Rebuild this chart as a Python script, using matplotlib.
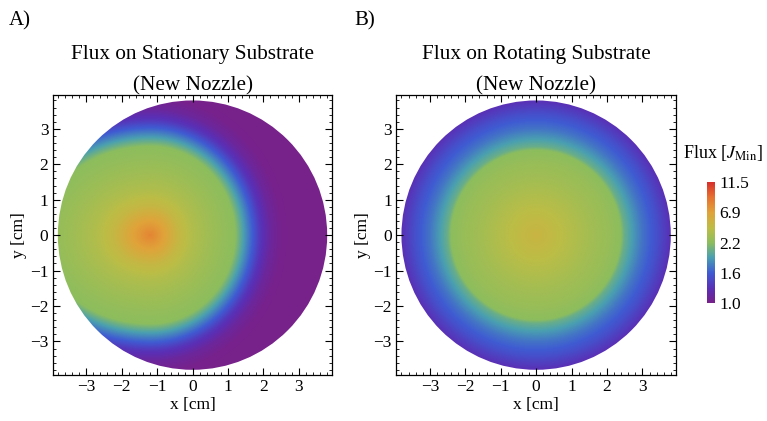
"""Flux maps on a stationary vs rotating substrate (new nozzle)."""
import numpy as np
import matplotlib
matplotlib.use('Agg')
import matplotlib.pyplot as plt
from matplotlib.colors import LinearSegmentedColormap, FuncNorm
from matplotlib.patches import Circle
from matplotlib.ticker import MultipleLocator

plt.rcParams.update({
    'font.family': 'Liberation Serif',
    'mathtext.fontset': 'stix',
    'font.size': 12,
    'axes.linewidth': 0.9,
    'xtick.direction': 'in',
    'ytick.direction': 'in',
})

# ---- data ----
substrate_radius = 3.8  # cm

# colorbar tick values (evenly spaced on the bar)
cbar_ticks = [1.0, 1.6, 2.2, 6.9, 11.5]
cbar_pos = [0.0, 0.25, 0.5, 0.75, 1.0]

# stationary substrate: flux vs scaled distance from the hot spot
hot_x, hot_y = -1.2, 0.0
stat_dist = [0.0, 0.4, 0.8, 1.2, 1.6, 2.0, 2.35, 2.6, 2.85, 3.1, 3.4, 3.7, 6.0]
stat_flux = [8.3, 6.8, 5.0, 3.9, 3.2, 2.65, 2.25, 1.95, 1.65, 1.35, 1.12, 1.02, 1.0]
stat_scale_left, stat_scale_right, stat_scale_y = 1.3, 1.0, 1.05

# rotating substrate: radial flux profile
rot_r = [0.0, 0.8, 1.6, 2.0, 2.5, 3.0, 3.4, 3.8, 4.5]
rot_flux = [5.3, 4.3, 3.2, 2.8, 2.05, 1.72, 1.53, 1.3, 1.2]

# colormap similar to Mathematica "Rainbow"
cmap_pos = [0.0, 0.12, 0.25, 0.38, 0.5, 0.62, 0.75, 0.88, 1.0]
cmap_cols = ['#78218a', '#5a2fb5', '#3f5bd2', '#4aa0b0', '#8cbd5e',
             '#bcbd46', '#e0a33a', '#e6702f', '#d8302b']
cmap = LinearSegmentedColormap.from_list('rainbow_mm', list(zip(cmap_pos, cmap_cols)))

norm = FuncNorm((lambda v: np.interp(v, cbar_ticks, cbar_pos),
                 lambda p: np.interp(p, cbar_pos, cbar_ticks)),
                vmin=cbar_ticks[0], vmax=cbar_ticks[-1])

# ---- build grids ----
g = np.linspace(-4, 4, 400)
X, Y = np.meshgrid(g, g)

dx = X - hot_x
dx = np.where(dx < 0, dx / stat_scale_left, dx / stat_scale_right)
d = np.sqrt(dx**2 + ((Y - hot_y) / stat_scale_y)**2)
F_stat = np.interp(d, stat_dist, stat_flux)

R = np.sqrt(X**2 + Y**2)
F_rot = np.interp(R, rot_r, rot_flux)

fig = plt.figure(figsize=(7.67, 4.21), dpi=100)
axA = fig.add_axes([0.068, 0.109, 0.366, 0.665])
axB = fig.add_axes([0.516, 0.109, 0.366, 0.665])
cax = fig.add_axes([0.922, 0.280, 0.0104, 0.287])


def style(ax, title):
    ax.set_xlim(-3.95, 3.95)
    ax.set_ylim(-3.95, 3.95)
    ax.set_aspect('equal')
    ax.xaxis.set_major_locator(MultipleLocator(1))
    ax.yaxis.set_major_locator(MultipleLocator(1))
    ax.xaxis.set_minor_locator(MultipleLocator(0.2))
    ax.yaxis.set_minor_locator(MultipleLocator(0.2))
    ax.tick_params(which='both', top=True, right=True, labelsize=12.5, pad=3)
    ax.tick_params(which='major', length=5, width=0.8)
    ax.tick_params(which='minor', length=2.5, width=0.6)
    ax.set_xlabel('x [cm]', fontsize=12.5, labelpad=1)
    ax.set_ylabel('y [cm]', fontsize=12.5, labelpad=2)
    ax.set_title(title, fontsize=15.3, linespacing=1.85, pad=3)


for ax, F, title in [(axA, F_stat, 'Flux on Stationary Substrate\n(New Nozzle)'),
                     (axB, F_rot, 'Flux on Rotating Substrate\n(New Nozzle)')]:
    im = ax.imshow(F, extent=(-4, 4, -4, 4), origin='lower', cmap=cmap, norm=norm,
                   interpolation='bilinear')
    im.set_clip_path(Circle((0, 0), substrate_radius, transform=ax.transData))
    style(ax, title)

cb = fig.colorbar(im, cax=cax)
cb.set_ticks(cbar_ticks)
cb.set_ticklabels([f'{t:.1f}' for t in cbar_ticks])
cb.ax.tick_params(length=0, labelsize=12.5, pad=3)
cb.outline.set_visible(False)
fig.text(0.890, 0.636, r'Flux [$J_{\mathrm{Min}}$]', fontsize=13, ha='left', va='center')

fig.text(0.012, 0.950, 'A)', fontsize=15, ha='left', va='center')
fig.text(0.462, 0.950, 'B)', fontsize=15, ha='left', va='center')

fig.savefig('out.png', dpi=100)
